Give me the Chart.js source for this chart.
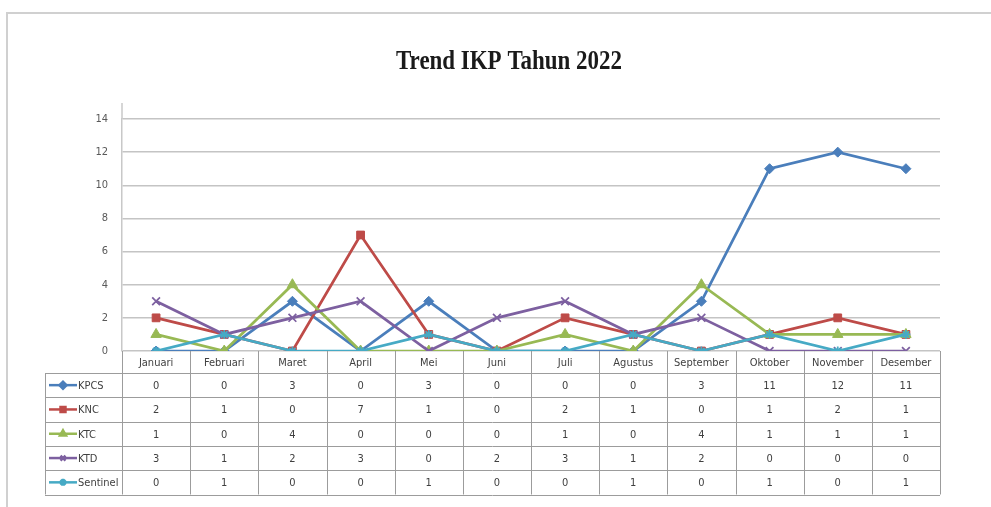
<!DOCTYPE html>
<html>
<head>
<meta charset="utf-8">
<script src="https://cdn.jsdelivr.net/npm/chart.js@4.4.0/dist/chart.umd.min.js"></script>
<style>
  html, body { margin: 0; padding: 0; background: #fff; }
  #wrap { position: relative; width: 991px; height: 507px; overflow: hidden; }
  #frame { position: absolute; left: 6px; top: 12px; right: -4px; bottom: -4px;
           border-top: 2px solid #d0d0d0; border-left: 2px solid #d0d0d0; }
  canvas { position: absolute; left: 0; top: 0; }
</style>
</head>
<body>
<div id="wrap"><div id="frame"></div><canvas id="chart" width="991" height="507"></canvas></div>
<script>
// data
const months = ["Januari", "Februari", "Maret", "April", "Mei", "Juni", "Juli",
  "Agustus", "September", "Oktober", "November", "Desember"];
const kpcs = [0, 0, 3, 0, 3, 0, 0, 0, 3, 11, 12, 11];
const knc = [2, 1, 0, 7, 1, 0, 2, 1, 0, 1, 2, 1];
const ktc = [1, 0, 4, 0, 0, 0, 1, 0, 4, 1, 1, 1];
const ktd = [3, 1, 2, 3, 0, 2, 3, 1, 2, 0, 0, 0];
const sentinel = [0, 1, 0, 0, 1, 0, 0, 1, 0, 1, 0, 1];
const yMax = 14;
const yStep = 2;

const titleText = "Trend IKP Tahun 2022";
const tableFont = "'Liberation Sans Narrow', 'DejaVu Sans Condensed', 'Liberation Sans', Arial, sans-serif";

const series = [
  { label: "KPCS", data: kpcs, color: "#4a7ebb", style: "rectRot", radius: 5 },
  { label: "KNC", data: knc, color: "#be4b48", style: "rect", radius: 5.5 },
  { label: "KTC", data: ktc, color: "#98b954", style: "triangle", radius: 6 },
  { label: "KTD", data: ktd, color: "#7d60a0", style: "crossRot", radius: 5.5 },
  { label: "Sentinel", data: sentinel, color: "#46aac5", style: "star", radius: 4.5 },
];

const tablePlugin = {
  id: "tablePlugin",
  beforeDraw(chart) {
    const ctx = chart.ctx;
    ctx.save();
    ctx.fillStyle = "#1a1a1a";
    ctx.font = "bold 27px 'Liberation Serif', 'Times New Roman', serif";
    ctx.textAlign = "center";
    ctx.textBaseline = "middle";
    const w = ctx.measureText(titleText).width;
    ctx.translate(509, 62);
    ctx.scale(226 / w, 1);
    ctx.fillText(titleText, 0, 0);
    ctx.restore();
  },
  beforeDatasetsDraw(chart) {
    const ctx = chart.ctx;
    const area = chart.chartArea;
    const x = chart.scales.x;
    const colW = (area.right - area.left) / months.length;
    const headTop = area.bottom;
    const headBot = area.bottom + 22;
    const rowH = 24.3;
    const tableLeft = 45;
    const tableBot = headBot + rowH * series.length;

    ctx.save();
    // axis line running a bit above the top gridline
    ctx.strokeStyle = "#c8c8c8";
    ctx.lineWidth = 1.5;
    ctx.beginPath();
    ctx.moveTo(area.left, area.top - 16);
    ctx.lineTo(area.left, area.top);
    ctx.stroke();

    ctx.strokeStyle = "#9c9c9c";
    ctx.lineWidth = 1;
    ctx.beginPath();
    for (let i = 0; i <= months.length; i++) {
      const px = Math.round(area.left + i * colW) + 0.5;
      ctx.moveTo(px, headTop);
      ctx.lineTo(px, tableBot);
    }
    ctx.moveTo(tableLeft + 0.5, headBot);
    ctx.lineTo(tableLeft + 0.5, tableBot);
    for (let r = 0; r <= series.length; r++) {
      const py = Math.round(headBot + r * rowH) + 0.5;
      ctx.moveTo(tableLeft, py);
      ctx.lineTo(area.right, py);
    }
    ctx.stroke();

    ctx.fillStyle = "#404040";
    ctx.font = "11px " + tableFont;
    ctx.textAlign = "center";
    ctx.textBaseline = "middle";
    months.forEach((m, i) => {
      ctx.fillText(m, x.getPixelForValue(i), (headTop + headBot) / 2 + 1);
    });

    series.forEach((s, r) => {
      const cy = headBot + (r + 0.5) * rowH;
      ctx.fillStyle = "#404040";
      ctx.textAlign = "center";
      s.data.forEach((v, i) => {
        ctx.fillText(String(v), x.getPixelForValue(i), cy + 1);
      });
      // legend key
      ctx.strokeStyle = s.color;
      ctx.lineWidth = 2.5;
      ctx.beginPath();
      ctx.moveTo(49, cy);
      ctx.lineTo(77, cy);
      ctx.stroke();
      ctx.fillStyle = s.color;
      Chart.helpers.drawPoint(ctx, { pointStyle: s.style, radius: 3.5, borderWidth: 1.5, rotation: 0 }, 63, cy);
      ctx.fillStyle = "#404040";
      ctx.textAlign = "left";
      ctx.fillText(s.label, 78, cy + 1);
    });
    ctx.restore();
  },
};

const ctx = document.getElementById("chart");

new Chart(ctx, {
  type: "line",
  data: {
    labels: months,
    datasets: series.map((s, i) => ({
      label: s.label,
      data: s.data,
      borderColor: s.color,
      backgroundColor: s.color,
      borderWidth: 2.75,
      pointStyle: s.style,
      pointRadius: s.radius,
      pointBorderWidth: s.style === "crossRot" || s.style === "star" ? 1.75 : 1,
      tension: 0,
      order: series.length - i,
    })),
  },
  options: {
    responsive: false,
    animation: false,
    layout: { padding: { top: 119, right: 51, bottom: 156, left: 0 } },
    plugins: { legend: { display: false }, tooltip: { enabled: false }, title: { display: false } },
    scales: {
      x: { type: "category", offset: true, display: false },
      y: {
        min: 0,
        max: yMax,
        ticks: { stepSize: yStep, color: "#595959", padding: 14, font: { size: 11, family: tableFont } },
        grid: { color: "#c4c4c4", lineWidth: 1.5, drawTicks: false },
        border: { color: "#c8c8c8", width: 1.5 },
        afterFit: (scale) => { scale.width = 122; },
      },
    },
  },
  plugins: [tablePlugin],
});
</script>
</body>
</html>
